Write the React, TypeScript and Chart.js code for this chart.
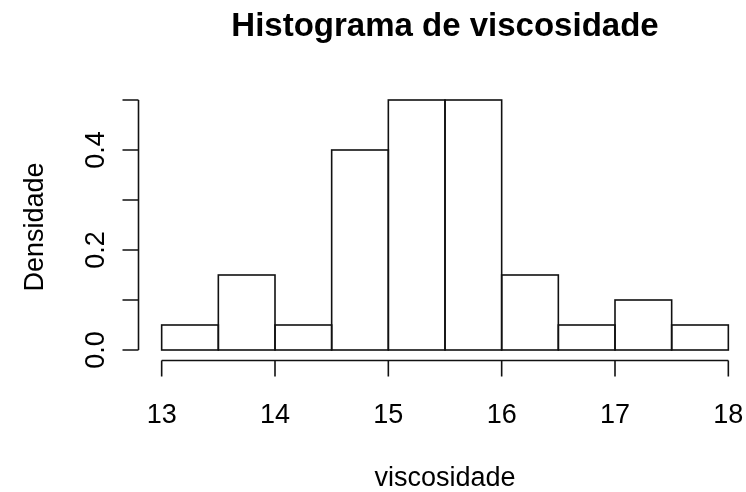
import React, { useEffect, useRef } from "react";
import { Chart, registerables } from "chart.js";

Chart.register(...registerables);

// ---- data ----
const binEdges = [13, 13.5, 14, 14.5, 15, 15.5, 16, 16.5, 17, 17.5, 18];
const densities = [0.05, 0.15, 0.05, 0.4, 0.5, 0.5, 0.15, 0.05, 0.1, 0.05];
const xTicks = [13, 14, 15, 16, 17, 18];
const xTickLabels = ["13", "14", "15", "16", "17", "18"];
const yTicks = [0, 0.1, 0.2, 0.3, 0.4, 0.5];
const yTickLabels = ["0.0", "", "0.2", "", "0.4", ""];
const titleText = "Histograma de viscosidade";
const xTitle = "viscosidade";
const yTitle = "Densidade";

const FONT = "'Liberation Sans', Arial, Helvetica, sans-serif";
const INK = "#111111";

const rAxesPlugin = {
  id: "rAxes",
  afterDatasetsDraw(chart: any) {
    const { ctx, chartArea } = chart;
    const xs = chart.scales.x;
    const ys = chart.scales.y;
    ctx.save();
    ctx.strokeStyle = INK;
    ctx.fillStyle = "#000";
    ctx.lineWidth = 1.6;

    // bar outlines (stroke centred on the edges, as R does)
    const meta = chart.getDatasetMeta(0);
    meta.data.forEach((el: any) => {
      const p = el.getProps(["x", "y", "base", "width"], true);
      ctx.strokeRect(p.x - p.width / 2, p.y, p.width, p.base - p.y);
    });

    // x axis
    const ax = Math.round(chartArea.bottom) + 0.5;
    const x0 = xs.getPixelForValue(xTicks[0]);
    const x1 = xs.getPixelForValue(xTicks[xTicks.length - 1]);
    ctx.beginPath();
    ctx.moveTo(x0, ax);
    ctx.lineTo(x1, ax);
    xTicks.forEach((v) => {
      const px = xs.getPixelForValue(v);
      ctx.moveTo(px, ax);
      ctx.lineTo(px, ax + 16);
    });
    ctx.stroke();
    ctx.font = `27px ${FONT}`;
    ctx.textAlign = "center";
    ctx.textBaseline = "alphabetic";
    xTicks.forEach((v, i) => {
      ctx.fillText(xTickLabels[i], xs.getPixelForValue(v), ax + 62);
    });

    // y axis
    const ay = Math.round(chartArea.left) - 0.5;
    const y0 = ys.getPixelForValue(yTicks[0]);
    const y1 = ys.getPixelForValue(yTicks[yTicks.length - 1]);
    ctx.beginPath();
    ctx.moveTo(ay, y0);
    ctx.lineTo(ay, y1);
    yTicks.forEach((v) => {
      const py = ys.getPixelForValue(v);
      ctx.moveTo(ay, py);
      ctx.lineTo(ay - 16, py);
    });
    ctx.stroke();
    yTicks.forEach((v, i) => {
      const lbl = yTickLabels[i];
      if (!lbl) return;
      const py = ys.getPixelForValue(v);
      ctx.save();
      ctx.translate(ay - 35, py);
      ctx.rotate(-Math.PI / 2);
      ctx.fillText(lbl, 0, 0);
      ctx.restore();
    });

    // titles
    const cx = xs.getPixelForValue((xTicks[0] + xTicks[xTicks.length - 1]) / 2);
    const cy = (chartArea.top + chartArea.bottom) / 2;
    ctx.font = `bold 33px ${FONT}`;
    ctx.fillText(titleText, cx, 36);
    ctx.font = `27px ${FONT}`;
    ctx.fillText(xTitle, cx, 486);
    ctx.save();
    ctx.translate(43, cy + 2);
    ctx.rotate(-Math.PI / 2);
    ctx.fillText(yTitle, 0, 0);
    ctx.restore();
    ctx.restore();
  },
};

export default function App() {
  const ref = useRef<HTMLCanvasElement | null>(null);
  useEffect(() => {
    if (!ref.current) return;
    const points = densities.map((d, i) => ({
      x: (binEdges[i] + binEdges[i + 1]) / 2,
      y: d,
    }));
    const chart = new Chart(ref.current, {
      type: "bar",
      data: {
        datasets: [
          {
            data: points as any,
            backgroundColor: "#ffffff",
            borderWidth: 0,
            barPercentage: 1,
            categoryPercentage: 1,
          },
        ],
      },
      options: {
        responsive: false,
        animation: false,
        devicePixelRatio: 1,
        layout: { padding: { left: 139, right: 12, top: 90, bottom: 132 } },
        plugins: {
          legend: { display: false },
          title: { display: false },
          tooltip: { enabled: false },
        },
        scales: {
          x: {
            type: "linear",
            display: false,
            offset: false,
            min: 12.8,
            max: 18.05,
            afterBuildTicks: (s: any) => {
              s.ticks = xTicks.map((v) => ({ value: v }));
            },
          },
          y: {
            type: "linear",
            display: false,
            min: -0.02,
            max: 0.52,
            afterBuildTicks: (s: any) => {
              s.ticks = yTicks.map((v) => ({ value: v }));
            },
          },
        },
      },
      plugins: [rAxesPlugin],
    });
    return () => chart.destroy();
  }, []);
  return (
    <div style={{ position: "fixed", left: 0, top: 0, width: 746, height: 492, background: "#fff" }}>
      <canvas ref={ref} width={746} height={492} style={{ width: 746, height: 492, display: "block" }} />
    </div>
  );
}
